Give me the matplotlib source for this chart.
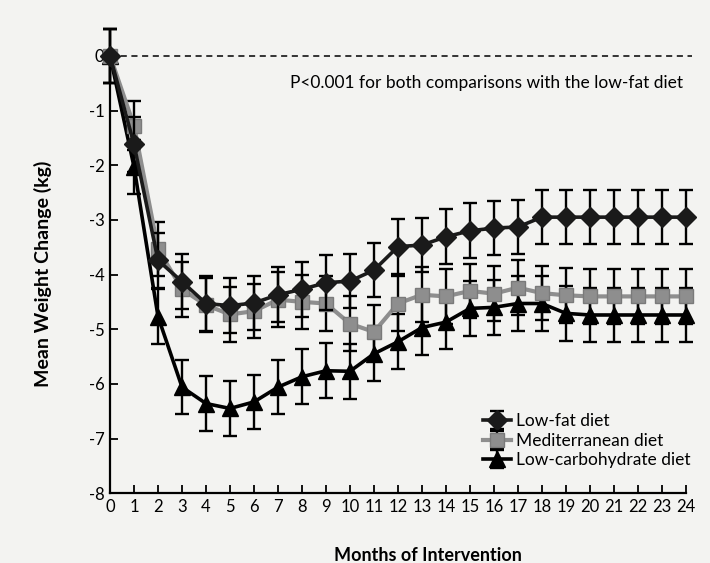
import matplotlib.pyplot as plt

plt.rcParams['font.family'] = ['Lato', 'DejaVu Sans']
plt.rcParams['axes.unicode_minus'] = False

# months of intervention
months = list(range(0, 25))

# mean weight change (kg)
low_fat = [0, -1.62, -3.74, -4.13, -4.53, -4.57, -4.52, -4.37, -4.27, -4.15, -4.12,
           -3.92, -3.49, -3.46, -3.31, -3.2, -3.15, -3.13, -2.95, -2.95, -2.95,
           -2.95, -2.95, -2.95, -2.95]
mediterranean = [0, -1.28, -3.53, -4.27, -4.56, -4.73, -4.67, -4.46, -4.5, -4.53, -4.9,
                 -5.05, -4.53, -4.37, -4.4, -4.3, -4.35, -4.24, -4.34, -4.38, -4.4,
                 -4.4, -4.4, -4.4, -4.4]
low_carb = [0, -2.03, -4.77, -6.06, -6.36, -6.45, -6.33, -6.06, -5.87, -5.76, -5.77,
            -5.45, -5.23, -4.97, -4.87, -4.62, -4.6, -4.53, -4.53, -4.71, -4.74,
            -4.74, -4.74, -4.74, -4.74]

# half-widths of the error bars
err_low_fat = [0.5] * 25
err_med = [0.5] * 25
err_low_carb = [0.5] * 25
err_med[1] = 0.45

fig = plt.figure(figsize=(7.1, 5.63), dpi=100)
fig.patch.set_facecolor('#f3f3f1')
ax = fig.add_axes([0.155, 0.124, 0.811, 0.835])
ax.set_facecolor('#f3f3f1')

ax.axhline(0, xmin=0, xmax=1.01, color='black', linestyle=(0, (4, 3)), linewidth=1.1,
           zorder=1, clip_on=False)

eb = dict(ecolor='black', elinewidth=1.7, capsize=5, capthick=1.7, clip_on=False)
ax.errorbar(months, low_carb, yerr=err_low_carb, color='black', linewidth=2.6,
            marker='^', markersize=11, label='Low-carbohydrate diet', zorder=3, **eb)
ax.errorbar(months, mediterranean, yerr=err_med, color='#8e8e8e', linewidth=3,
            marker='s', markersize=10, markeredgecolor='#7a7a7a',
            label='Mediterranean diet', zorder=4, **eb)
ax.errorbar(months, low_fat, yerr=err_low_fat, color='#1a1a1a', linewidth=2.6,
            marker='D', markersize=10, label='Low-fat diet', zorder=5, **eb)

ax.set_xlim(0, 24)
ax.set_ylim(-8, 0.6)
ax.set_xticks(months)
ax.set_yticks(range(-8, 1))
ax.tick_params(direction='in', length=6, width=1.3, labelsize=12, pad=4)

ax.spines['top'].set_visible(False)
ax.spines['right'].set_visible(False)
ax.spines['left'].set_bounds(-8, 0)
ax.spines['left'].set_linewidth(1.6)
ax.spines['bottom'].set_linewidth(1.6)

ax.set_xlabel('Months of Intervention', fontsize=13, fontweight='bold')
ax.xaxis.set_label_coords(0.552, -0.115)
ax.set_ylabel('Mean Weight Change (kg)', fontsize=14, fontweight='bold')
ax.yaxis.set_label_coords(-0.1, 0.466)

ax.text(23.9, -0.5, 'P<0.001 for both comparisons with the low-fat diet',
        ha='right', va='center', fontsize=12.5)

handles, labels = ax.get_legend_handles_labels()
ax.legend(handles[::-1], labels[::-1], loc='lower right', bbox_to_anchor=(1.035, 0.02),
          frameon=False, fontsize=12.5, handlelength=1.6, handletextpad=0.3,
          labelspacing=0.2)

plt.savefig('out.png', dpi=100, facecolor=fig.get_facecolor())
